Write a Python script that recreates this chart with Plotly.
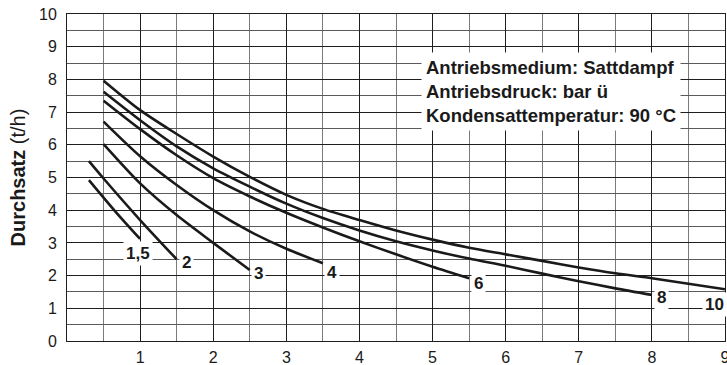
import plotly.graph_objects as go

# Curves: Antriebsdruck (bar ü)
c15_x = [0.3, 0.65, 1.0]
c15_y = [4.92, 3.99, 3.12]
c2_x = [0.3, 0.5, 1.0, 1.5]
c2_y = [5.5, 4.97, 3.7, 2.5]
c3_x = [0.5, 1.0, 1.5, 2.0, 2.5]
c3_y = [6.02, 4.82, 3.85, 3.0, 2.17]
c4_x = [0.5, 1.0, 1.5, 2.0, 2.5, 3.0, 3.5]
c4_y = [6.71, 5.65, 4.77, 4.0, 3.35, 2.82, 2.38]
c6_x = [0.5, 1.0, 1.5, 2.0, 2.5, 3.0, 3.5, 4.0, 4.5, 5.0, 5.5]
c6_y = [7.35, 6.48, 5.68, 4.98, 4.42, 3.92, 3.47, 3.05, 2.65, 2.27, 1.92]
c8_x = [0.5, 1.0, 1.5, 2.0, 2.5, 3.0, 3.5, 4.0, 4.5, 5.0, 5.5, 6.0, 6.5, 7.0, 7.5, 8.0]
c8_y = [7.62, 6.75, 5.95, 5.28, 4.72, 4.2, 3.76, 3.38, 3.05, 2.77, 2.52, 2.3, 2.06, 1.83, 1.61, 1.41]
c10_x = [0.5, 1.0, 1.5, 2.0, 2.5, 3.0, 3.5, 4.0, 4.5, 5.0, 5.5, 6.0, 6.5, 7.0, 7.5, 8.0, 8.5, 9.0]
c10_y = [7.96, 7.06, 6.33, 5.64, 5.02, 4.47, 4.04, 3.7, 3.38, 3.1, 2.85, 2.65, 2.45, 2.25, 2.07, 1.92, 1.75, 1.58]

curve_labels = ["1,5", "2", "3", "4", "6", "8", "10"]
label_x = [0.97, 1.64, 2.62, 3.63, 5.63, 8.13, 8.85]
label_y = [2.69, 2.40, 2.05, 2.09, 1.77, 1.33, 1.13]

x_ticks = [1, 2, 3, 4, 5, 6, 7, 8, 9]
y_ticks = [0, 1, 2, 3, 4, 5, 6, 7, 8, 9, 10]

info_lines = ["Antriebsmedium: Sattdampf", "Antriebsdruck: bar ü", "Kondensattemperatur: 90 °C"]

FONT = "Liberation Sans, Arial, sans-serif"

fig = go.Figure()
for xs, ys in [(c15_x, c15_y), (c2_x, c2_y), (c3_x, c3_y), (c4_x, c4_y),
               (c6_x, c6_y), (c8_x, c8_y), (c10_x, c10_y)]:
    fig.add_trace(go.Scatter(x=xs, y=ys, mode="lines",
                             line=dict(color="#1a1a1a", width=2.6, shape="spline", smoothing=0.8),
                             showlegend=False, hoverinfo="skip"))

for t, lx, ly in zip(curve_labels, label_x, label_y):
    fig.add_annotation(x=lx, y=ly, text="<b>%s</b>" % t, showarrow=False,
                       font=dict(family=FONT, size=17, color="#1a1a1a"),
                       bgcolor="white", borderpad=2)

fig.add_annotation(x=0.538, y=0.885, xref="paper", yref="paper", xanchor="left", yanchor="top",
                   align="left", showarrow=False,
                   text="<br>".join("<b>%s</b>" % s for s in info_lines),
                   font=dict(family=FONT, size=18.5, color="#1a1a1a"),
                   bgcolor="white", borderpad=4)

fig.update_xaxes(range=[0, 9], tickvals=x_ticks, ticktext=[str(v) for v in x_ticks],
                 showgrid=True, gridcolor="#1e1e1e", gridwidth=1,
                 minor=dict(dtick=0.5, tick0=0, showgrid=True, gridcolor="#7a7a7a", gridwidth=1),
                 showline=True, linecolor="#1e1e1e", linewidth=1, mirror=True,
                 zeroline=False, ticks="", ticklabelstandoff=2, automargin=False,
                 ticklabeloverflow="allow",
                 tickfont=dict(family=FONT, size=16, color="#1a1a1a"))
fig.update_yaxes(range=[0, 10], tickvals=y_ticks, ticktext=[str(v) for v in y_ticks],
                 showgrid=True, gridcolor="#1e1e1e", gridwidth=1,
                 minor=dict(dtick=0.5, tick0=0, showgrid=True, gridcolor="#5a5a5a", gridwidth=1),
                 showline=True, linecolor="#1e1e1e", linewidth=1, mirror=True,
                 zeroline=False, ticks="", ticklabelstandoff=6, automargin=False,
                 tickfont=dict(family=FONT, size=16, color="#1a1a1a"),
                 title=dict(text="<b>Durchsatz</b> (t/h)", standoff=8,
                            font=dict(family=FONT, size=20, color="#1a1a1a")))

fig.update_layout(width=727, height=365, paper_bgcolor="white", plot_bgcolor="white",
                  margin=dict(l=67, r=2, t=14, b=24), font=dict(family=FONT))

fig.write_html("out.html", config={"displayModeBar": False},
               post_script="document.body.style.margin='0';document.body.style.overflow='hidden';")
